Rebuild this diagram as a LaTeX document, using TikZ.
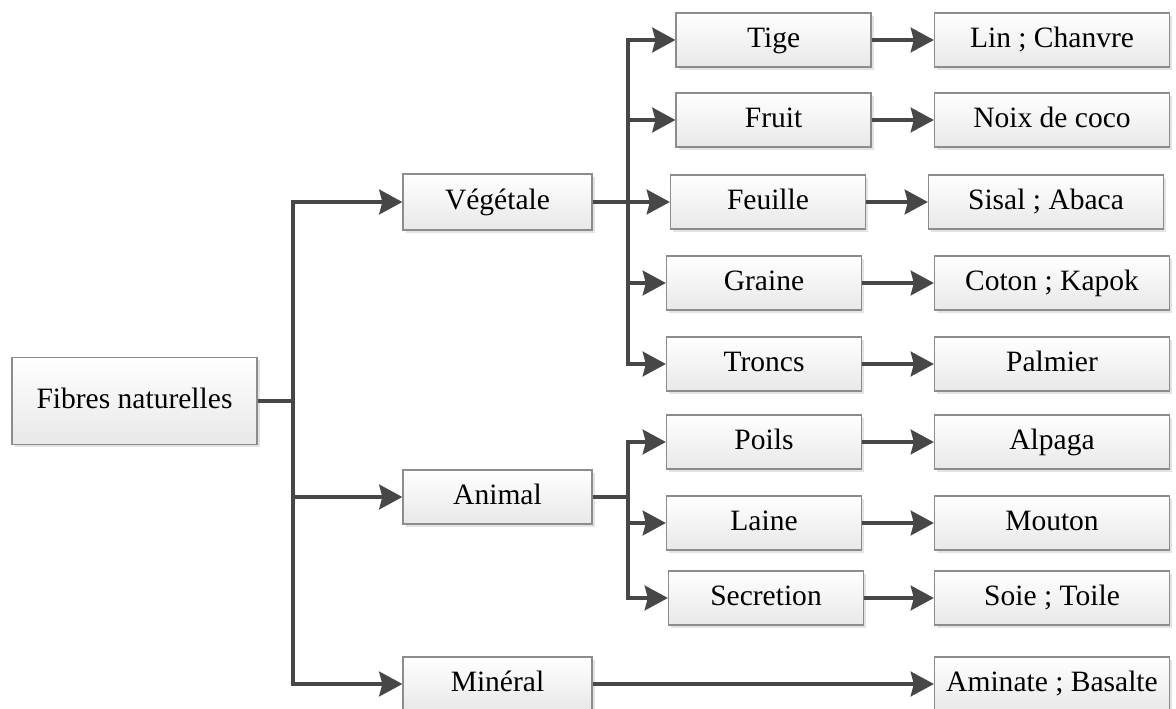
\documentclass[tikz,border=0pt]{standalone}
\usepackage{fontspec}
\setmainfont{Liberation Serif}
\usetikzlibrary{arrows.meta,shadows}

\begin{document}
\begin{tikzpicture}[
    box/.style={draw=black!45, line width=0.9pt, top color=white, bottom color=black!9,
      minimum width=4.875cm, minimum height=1.35cm, inner sep=0pt, align=center,
      text height=0.5cm, text depth=0.12cm,
      font=\fontsize{21}{24}\selectfont,
      drop shadow={shadow xshift=1.8pt, shadow yshift=-1.8pt, opacity=0.22}},
    wbox/.style={box, minimum width=5.875cm},
    arr/.style={-{Stealth[length=0.58cm, width=0.62cm, inset=0.08cm]}, line width=2.5pt, draw=black!72},
    lin/.style={line width=2.5pt, draw=black!72}
]
\useasboundingbox (0,0) rectangle (29.4,-17.725);

\node[box, minimum width=6.125cm, minimum height=2.175cm] (fib) at (3.3625,-10.025) {Fibres naturelles};

\node[box, minimum width=4.725cm, minimum height=1.4cm] (veg) at (12.4375,-5.05) {Végétale};
\node[box, minimum width=4.725cm, minimum height=1.35cm] (ani) at (12.4375,-12.425) {Animal};
\node[box, minimum width=4.725cm, minimum height=1.35cm] (min) at (12.4375,-17.1) {Minéral};

\node[box] (tige) at (19.34,-1.0) {Tige};
\node[box] (fruit) at (19.34,-3.0) {Fruit};
\node[box] (feuil) at (19.2,-5.05) {Feuille};
\node[box] (grain) at (19.1,-7.075) {Graine};
\node[box] (tronc) at (19.1,-9.1) {Troncs};
\node[box] (poil) at (19.1,-11.05) {Poils};
\node[box] (laine) at (19.1,-13.075) {Laine};
\node[box] (secr) at (19.15,-14.95) {Secretion};

\node[wbox] (lin) at (26.3,-1.0) {Lin ; Chanvre};
\node[wbox] (noix) at (26.3,-3.0) {Noix de coco};
\node[wbox] (sisal) at (26.15,-5.05) {Sisal ; Abaca};
\node[wbox] (coton) at (26.3,-7.075) {Coton ; Kapok};
\node[wbox] (palm) at (26.3,-9.1) {Palmier};
\node[wbox] (alpa) at (26.3,-11.05) {Alpaga};
\node[wbox] (mout) at (26.3,-13.075) {Mouton};
\node[wbox] (soie) at (26.3,-14.95) {Soie ; Toile};
\node[wbox] (amin) at (26.3,-17.1) {Aminate ; Basalte};

\coordinate (j1) at (7.325,-10.025);
\coordinate (j2) at (15.7,-5.05);

\draw[lin] (fib.east) -- (j1);
\draw[arr] (j1) |- (veg.west);
\draw[arr] (j1) |- (ani.west);
\draw[arr] (j1) |- (min.west);

\draw[lin] (veg.east) -- (j2);
\draw[arr] (j2) |- (tige.west);
\draw[arr] (j2) |- (fruit.west);
\draw[arr] (j2) -- (feuil.west);
\draw[arr] (j2) |- (grain.west);
\draw[arr] (j2) |- (tronc.west);

\draw[lin] (ani.east) -- (ani.east -| j2);
\draw[arr] (ani.east -| j2) |- (poil.west);
\draw[arr] (ani.east -| j2) |- (laine.west);
\draw[arr] (ani.east -| j2) |- (secr.west);

\draw[arr] (tige) -- (lin);
\draw[arr] (fruit) -- (noix);
\draw[arr] (feuil) -- (sisal);
\draw[arr] (grain) -- (coton);
\draw[arr] (tronc) -- (palm);
\draw[arr] (poil) -- (alpa);
\draw[arr] (laine) -- (mout);
\draw[arr] (secr) -- (soie);
\draw[arr] (min) -- (amin);
\end{tikzpicture}
\end{document}
